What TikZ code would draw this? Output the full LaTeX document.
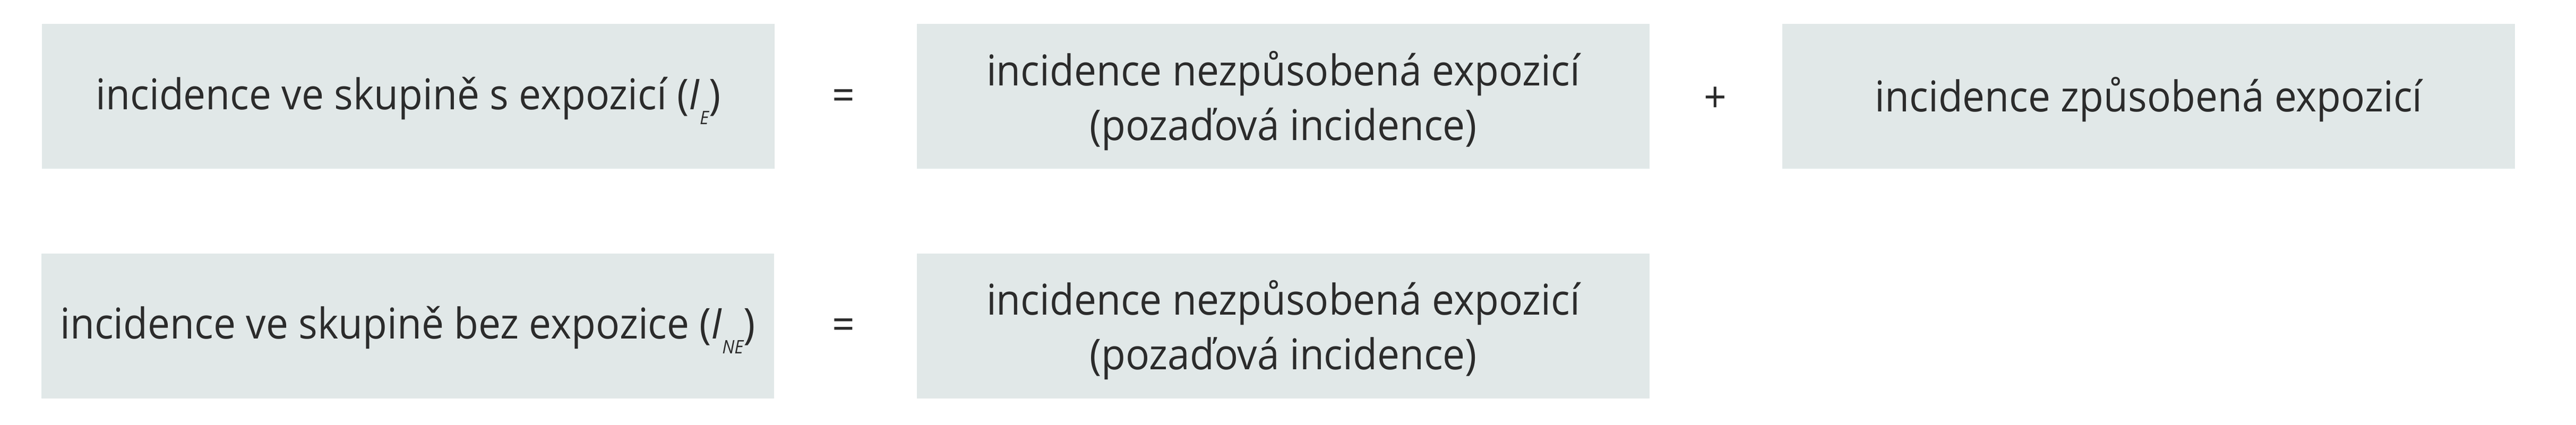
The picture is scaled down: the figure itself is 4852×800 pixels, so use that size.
\documentclass[tikz,border=0pt]{standalone}
\usepackage{fontspec}
\setmainfont{Open Sans}[FakeStretch=0.935]
\definecolor{boxfill}{HTML}{E1E8E8}
\definecolor{ink}{HTML}{2B2B2B}
\newcommand{\subsc}[1]{\raisebox{-5.6pt}{\fontsize{7}{7}\selectfont\itshape #1}}
\begin{document}
\begin{tikzpicture}[x=0.2pt,y=-0.2pt]
\tikzset{
  termbox/.style={fill=boxfill, draw=none, inner sep=0pt, minimum width=276pt, minimum height=54.6pt, text=ink, font=\fontsize{16}{20.6}\selectfont},
  termtext/.style={align=center, text=ink, inner sep=0pt, font=\fontsize{16}{20.6}\selectfont},
  opsign/.style={text=ink, inner sep=0pt, font=\fontsize{16}{20.6}\selectfont}
}
\useasboundingbox (0,0) rectangle (4852,800);
\node[termbox] (a) at (769,181.5) {};
\node[termtext] (ta) at (769,190) {incidence ve skupině s expozicí (\textit{I}\subsc{E})};
\node[opsign] (eq1) at (1589,188) {=};
\node[termbox] (b) at (2417,181.5) {};
\node[termtext] (tb) at (2417,190) {incidence nezpůsobená expozicí\\(pozaďová incidence)};
\node[opsign] (plus) at (3231,188) {+};
\node[termbox] (c) at (4047,181.5) {};
\node[termtext] (tc) at (4047,188) {incidence způsobená expozicí};
\node[termbox] (d) at (768,614) {};
\node[termtext] (td) at (768,622) {incidence ve skupině bez expozice (\textit{I}\subsc{NE})};
\node[opsign] (eq2) at (1589,620) {=};
\node[termbox] (e) at (2417,614) {};
\node[termtext] (te) at (2417,622) {incidence nezpůsobená expozicí\\(pozaďová incidence)};
\end{tikzpicture}
\end{document}
